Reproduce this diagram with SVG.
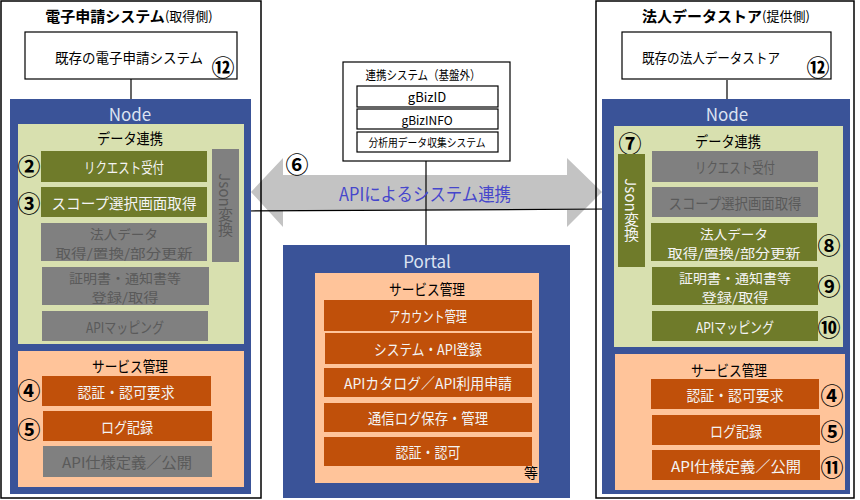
<svg xmlns="http://www.w3.org/2000/svg" width="860" height="500" viewBox="0 0 860 500">
<style>
text{font-family:"Noto Sans CJK JP","Noto Sans",sans-serif;text-anchor:middle;dominant-baseline:central}
.frame{fill:none;stroke:#000;stroke-width:1.5}
.wbox{fill:#fff;stroke:#000;stroke-width:1.2}
.blue{fill:#3A5398}
.green{fill:#D8E0AF}
.peach{fill:#FFC49A}
.olive{fill:#6F7B2A}
.gray{fill:#808080}
.orange{fill:#C0500A}
.tw{fill:#F4F4F4;font-size:15px}
.tg{fill:#5A5A5A;font-size:15px}
.tk{fill:#000;font-size:15px}
.s14{font-size:14px}
.s13{font-size:13px}
.tn{fill:#DCE3F2;font-size:17px}
.num{fill:#000;font-size:23px;font-weight:bold}
.conn{stroke:#000;stroke-width:1.2;fill:none}
.vert{writing-mode:vertical-rl;font-size:15px}
</style>

<g id="connectors">
  <polygon points="251,192 283,158 283,175 567,175 567,158 602,192 567,227 567,210 283,210 283,227" fill="#C3C3C3"/>
  <line class="conn" x1="248" y1="211" x2="607" y2="209"/>
  <line class="conn" x1="426" y1="161" x2="426" y2="245"/>
  <line class="conn" x1="131" y1="79" x2="131" y2="99"/>
  <line class="conn" x1="727" y1="80" x2="727" y2="99"/>
  <text x="425" y="193" style="font-size:18px;fill:#4646CC" textLength="172" lengthAdjust="spacingAndGlyphs">APIによるシステム連携</text>
  <text class="num" x="297" y="163">⑥</text>
</g>

<g id="left-system">
  <rect class="frame" x="1" y="1" width="260" height="497"/>
  <text x="129" y="15" style="font-size:15px;font-weight:bold"><tspan>電子申請システム</tspan><tspan style="font-size:13px;font-weight:normal">(取得側)</tspan></text>
</g>
<g id="left-existing">
  <rect class="wbox" x="25" y="32" width="212" height="47"/>
  <text class="tk s14" x="129" y="57" textLength="148" lengthAdjust="spacingAndGlyphs">既存の電子申請システム</text>
  <text class="num" x="223" y="66">⑫</text>
</g>
<g id="left-node">
  <rect class="blue" x="10" y="99" width="241" height="395"/>
  <text class="tn" x="130" y="113">Node</text>
  <rect class="green" x="18" y="124" width="226" height="220"/>
  <text class="tk" x="130" y="137" textLength="66" lengthAdjust="spacingAndGlyphs">データ連携</text>
  <rect class="olive" x="41" y="151" width="166" height="31"/>
  <text class="tw" x="124" y="166.5" textLength="80" lengthAdjust="spacingAndGlyphs">リクエスト受付</text>
  <text class="num" x="29" y="165">②</text>
  <rect class="olive" x="41" y="187" width="166" height="30"/>
  <text class="tw" x="124" y="202" textLength="145" lengthAdjust="spacingAndGlyphs">スコープ選択画面取得</text>
  <text class="num" x="29" y="202">③</text>
  <rect class="gray" x="41" y="223" width="166" height="38"/>
  <text class="tg s13"><tspan x="124" y="232.5" textLength="68" lengthAdjust="spacingAndGlyphs">法人データ</tspan><tspan x="124" y="251.5" textLength="137" lengthAdjust="spacingAndGlyphs">取得/置換/部分更新</tspan></text>
  <rect class="gray" x="42" y="267" width="167" height="38"/>
  <text class="tg s13"><tspan x="125" y="276.5" textLength="112" lengthAdjust="spacingAndGlyphs">証明書・通知書等</tspan><tspan x="125" y="295.5" textLength="67" lengthAdjust="spacingAndGlyphs">登録/取得</tspan></text>
  <rect class="gray" x="42" y="311" width="166" height="30"/>
  <text class="tg" x="125" y="326" textLength="78" lengthAdjust="spacingAndGlyphs">APIマッピング</text>
  <rect class="gray" x="212" y="149" width="27" height="113"/>
  <text class="vert" x="225.5" y="205" fill="#5A5A5A">Json変換</text>
  <rect class="peach" x="18" y="351" width="226" height="136"/>
  <text class="tk" x="130" y="365" textLength="76" lengthAdjust="spacingAndGlyphs">サービス管理</text>
  <rect class="orange" x="42" y="376" width="169" height="30"/>
  <text class="tw" x="126" y="391" textLength="97" lengthAdjust="spacingAndGlyphs">認証・認可要求</text>
  <text class="num" x="29" y="389">④</text>
  <rect class="orange" x="43" y="411" width="169" height="30"/>
  <text class="tw" x="127" y="426" textLength="52" lengthAdjust="spacingAndGlyphs">ログ記録</text>
  <text class="num" x="29" y="428">⑤</text>
  <rect class="gray" x="43" y="446" width="169" height="31"/>
  <text class="tg" x="127" y="461" textLength="130" lengthAdjust="spacingAndGlyphs">API仕様定義／公開</text>
</g>

<g id="center-system">
  <rect class="wbox" x="343" y="62" width="167" height="99"/>
  <text x="423" y="74" style="font-size:12.5px" textLength="115" lengthAdjust="spacingAndGlyphs">連携システム（基盤外）</text>
  <rect class="wbox" x="357" y="86" width="141" height="21"/>
  <text x="427" y="96.5" style="font-size:13px">gBizID</text>
  <rect class="wbox" x="357" y="109" width="141" height="20"/>
  <text x="427" y="119" style="font-size:12px">gBizINFO</text>
  <rect class="wbox" x="357" y="132" width="141" height="20"/>
  <text x="427" y="142" style="font-size:11.5px" textLength="117" lengthAdjust="spacingAndGlyphs">分析用データ収集システム</text>
</g>

<g id="portal">
  <rect class="blue" x="283" y="245" width="287" height="253"/>
  <text class="tn" x="427" y="260">Portal</text>
  <rect class="peach" x="315" y="273" width="224" height="210"/>
  <text class="tk" x="427" y="288" textLength="76" lengthAdjust="spacingAndGlyphs">サービス管理</text>
  <rect class="orange" x="324" y="300" width="208" height="31"/>
  <text class="tw" x="428" y="315.5" textLength="78" lengthAdjust="spacingAndGlyphs">アカウント管理</text>
  <rect class="orange" x="325" y="333" width="207" height="31"/>
  <text class="tw" x="428" y="348.5" textLength="108" lengthAdjust="spacingAndGlyphs">システム・API登録</text>
  <rect class="orange" x="324" y="368" width="208" height="29"/>
  <text class="tw" x="428" y="382.5" textLength="168" lengthAdjust="spacingAndGlyphs">APIカタログ／API利用申請</text>
  <rect class="orange" x="324" y="403" width="208" height="29"/>
  <text class="tw" x="428" y="417.5" textLength="120" lengthAdjust="spacingAndGlyphs">通信ログ保存・管理</text>
  <rect class="orange" x="324" y="437" width="208" height="29"/>
  <text class="tw" x="428" y="451.5" textLength="65" lengthAdjust="spacingAndGlyphs">認証・認可</text>
  <text class="tk s14" x="531" y="472">等</text>
</g>

<g id="right-system">
  <rect class="frame" x="596" y="1" width="258" height="497"/>
  <text x="726" y="15" style="font-size:15px;font-weight:bold"><tspan>法人データストア</tspan><tspan style="font-size:13px;font-weight:normal">(提供側)</tspan></text>
</g>
<g id="right-existing">
  <rect class="wbox" x="622" y="32" width="209" height="47"/>
  <text class="tk s14" x="711" y="57" textLength="138" lengthAdjust="spacingAndGlyphs">既存の法人データストア</text>
  <text class="num" x="818" y="66">⑫</text>
</g>
<g id="right-node">
  <rect class="blue" x="602" y="99" width="248" height="395"/>
  <text class="tn" x="727" y="113">Node</text>
  <rect class="green" x="614" y="126" width="229" height="221"/>
  <text class="tk" x="728" y="140" textLength="66" lengthAdjust="spacingAndGlyphs">データ連携</text>
  <text class="num" x="630" y="142">⑦</text>
  <rect class="olive" x="618" y="154" width="27" height="113"/>
  <text class="vert" x="631.5" y="210" fill="#F4F4F4">Json変換</text>
  <rect class="gray" x="652" y="151" width="166" height="31"/>
  <text class="tg" x="735" y="166.5" textLength="80" lengthAdjust="spacingAndGlyphs">リクエスト受付</text>
  <rect class="gray" x="652" y="187" width="166" height="30"/>
  <text class="tg" x="735" y="202" textLength="133" lengthAdjust="spacingAndGlyphs">スコープ選択画面取得</text>
  <rect class="olive" x="651" y="223" width="166" height="38"/>
  <text class="tw s13"><tspan x="734" y="232.5" textLength="68" lengthAdjust="spacingAndGlyphs">法人データ</tspan><tspan x="734" y="251.5" textLength="133" lengthAdjust="spacingAndGlyphs">取得/置換/部分更新</tspan></text>
  <text class="num" x="829" y="244">⑧</text>
  <rect class="olive" x="652" y="267" width="166" height="38"/>
  <text class="tw s13"><tspan x="735" y="276.5" textLength="112" lengthAdjust="spacingAndGlyphs">証明書・通知書等</tspan><tspan x="735" y="295.5" textLength="67" lengthAdjust="spacingAndGlyphs">登録/取得</tspan></text>
  <text class="num" x="829" y="285">⑨</text>
  <rect class="olive" x="652" y="311" width="166" height="30"/>
  <text class="tw" x="735" y="326" textLength="78" lengthAdjust="spacingAndGlyphs">APIマッピング</text>
  <text class="num" x="829" y="326">⑩</text>
  <rect class="peach" x="615" y="354" width="230" height="136"/>
  <text class="tk" x="729" y="369" textLength="76" lengthAdjust="spacingAndGlyphs">サービス管理</text>
  <rect class="orange" x="651" y="379" width="168" height="30"/>
  <text class="tw" x="735" y="394" textLength="97" lengthAdjust="spacingAndGlyphs">認証・認可要求</text>
  <text class="num" x="832" y="394">④</text>
  <rect class="orange" x="652" y="415" width="168" height="30"/>
  <text class="tw" x="736" y="430" textLength="52" lengthAdjust="spacingAndGlyphs">ログ記録</text>
  <text class="num" x="832" y="430">⑤</text>
  <rect class="orange" x="652" y="450" width="168" height="30"/>
  <text class="tw" x="736" y="465" textLength="130" lengthAdjust="spacingAndGlyphs">API仕様定義／公開</text>
  <text class="num" x="832" y="466">⑪</text>
</g>
</svg>
